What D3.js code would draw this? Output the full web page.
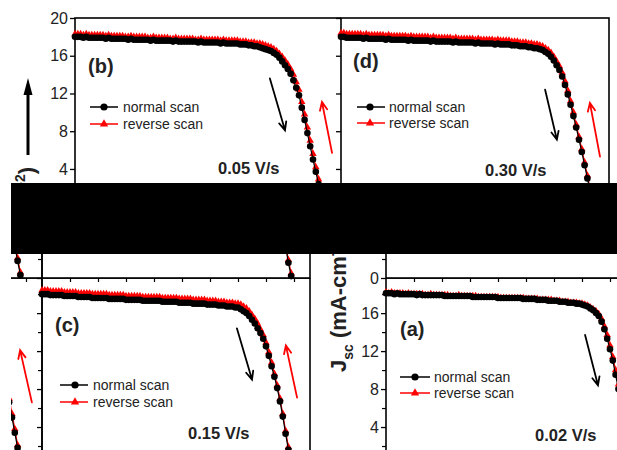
<!DOCTYPE html>
<html>
<head>
<meta charset="utf-8">
<script src="https://cdn.jsdelivr.net/npm/d3@7"></script>
<style>
  body { margin: 0; background: #fff; }
  svg { display: block; font-family: "Liberation Sans", Arial, sans-serif; }
</style>
</head>
<body>
<div id="container"></div>
<script>
// voltage grid (V), shared by every panel
const voltage = [
  0.00,0.01,0.02,0.03,0.04,0.05,0.06,0.07,0.08,0.09,
  0.10,0.11,0.12,0.13,0.14,0.15,0.16,0.17,0.18,0.19,
  0.20,0.21,0.22,0.23,0.24,0.25,0.26,0.27,0.28,0.29,
  0.30,0.31,0.32,0.33,0.34,0.35,0.36,0.37,0.38,0.39,
  0.40,0.41,0.42,0.43,0.44,0.45,0.46,0.47,0.48,0.49,
  0.50,0.51,0.52,0.53,0.54,0.55,0.56,0.57,0.58,0.59,
  0.60,0.61,0.62,0.63,0.64,0.65,0.66,0.67,0.68,0.69,
  0.70,0.71,0.72,0.73,0.74,0.75,0.76,0.77,0.78,0.79,
  0.80,0.81,0.82,0.83,0.84,0.85,0.86,0.87,0.88,0.89,
  0.90
];

// Jsc (mA cm-2)
const bNormal = [
  18.0,18.0,18.0,17.9,18.0,17.9,17.9,17.9,17.9,17.9,
  17.9,17.8,17.9,17.8,17.8,17.8,17.8,17.8,17.8,17.7,
  17.8,17.7,17.7,17.7,17.7,17.7,17.7,17.6,17.7,17.6,
  17.6,17.6,17.6,17.6,17.6,17.5,17.6,17.5,17.5,17.5,
  17.5,17.5,17.5,17.5,17.4,17.5,17.4,17.4,17.4,17.4,
  17.4,17.4,17.3,17.4,17.3,17.3,17.3,17.3,17.3,17.2,
  17.2,17.2,17.1,17.1,17.0,17.0,16.9,16.8,16.7,16.6,
  16.5,16.3,16.1,15.8,15.4,15.0,14.6,14.1,13.4,12.6,
  11.8,10.5,9.2,7.8,6.4,5.0,3.7,2.4,1.1,0.0
];
const bReverse = [
  18.3,18.3,18.3,18.2,18.3,18.2,18.2,18.2,18.2,18.2,
  18.2,18.1,18.2,18.1,18.1,18.1,18.1,18.1,18.0,18.0,
  18.1,18.0,18.0,18.0,18.0,18.0,17.9,17.9,18.0,17.9,
  17.9,17.9,17.9,17.9,17.8,17.8,17.9,17.8,17.8,17.8,
  17.8,17.8,17.8,17.7,17.7,17.8,17.7,17.7,17.7,17.7,
  17.7,17.7,17.6,17.7,17.6,17.6,17.6,17.6,17.6,17.5,
  17.5,17.5,17.4,17.4,17.4,17.3,17.3,17.2,17.1,17.0,
  16.9,16.7,16.5,16.2,15.9,15.5,15.1,14.6,14.0,13.2,
  12.4,11.1,9.8,8.4,7.0,5.6,4.2,2.9,1.6,0.3
];
const dNormal = [
  18.0,18.0,17.9,17.9,17.9,17.9,17.9,17.9,17.8,17.9,
  17.8,17.8,17.8,17.8,17.8,17.8,17.7,17.8,17.7,17.7,
  17.7,17.7,17.7,17.7,17.6,17.7,17.6,17.6,17.6,17.6,
  17.6,17.6,17.5,17.6,17.5,17.5,17.5,17.5,17.5,17.5,
  17.4,17.5,17.4,17.4,17.4,17.4,17.4,17.4,17.3,17.4,
  17.3,17.3,17.3,17.3,17.3,17.2,17.3,17.2,17.2,17.2,
  17.2,17.1,17.1,17.1,17.0,17.0,17.0,16.9,16.9,16.8,
  16.8,16.7,16.6,16.4,16.2,15.9,15.5,15.0,14.5,13.8,
  12.9,11.9,10.8,9.6,8.4,7.1,5.8,4.4,3.0,1.6,
  0.2
];
const dReverse = [
  18.4,18.4,18.3,18.3,18.3,18.3,18.3,18.3,18.2,18.3,
  18.2,18.2,18.2,18.2,18.2,18.2,18.1,18.2,18.1,18.1,
  18.1,18.1,18.1,18.1,18.0,18.1,18.0,18.0,18.0,18.0,
  18.0,18.0,17.9,18.0,17.9,17.9,17.9,17.9,17.9,17.9,
  17.8,17.9,17.8,17.8,17.8,17.8,17.8,17.8,17.7,17.8,
  17.7,17.7,17.7,17.7,17.7,17.6,17.7,17.6,17.6,17.6,
  17.6,17.5,17.5,17.5,17.4,17.4,17.4,17.3,17.3,17.2,
  17.2,17.1,17.0,16.8,16.6,16.3,15.9,15.4,14.9,14.2,
  13.3,12.3,11.2,10.0,8.7,7.4,6.1,4.7,3.3,1.9,
  0.5
];
const cNormal = [
  18.0,18.0,18.0,17.9,17.9,17.9,17.9,17.9,17.8,17.8,
  17.8,17.8,17.8,17.7,17.7,17.7,17.7,17.7,17.6,17.6,
  17.6,17.6,17.6,17.6,17.5,17.5,17.5,17.5,17.5,17.5,
  17.4,17.4,17.4,17.4,17.4,17.4,17.3,17.3,17.3,17.3,
  17.3,17.3,17.3,17.2,17.2,17.2,17.2,17.2,17.2,17.1,
  17.1,17.1,17.1,17.1,17.0,17.0,17.0,17.0,17.0,16.9,
  16.9,16.9,16.9,16.8,16.8,16.8,16.7,16.7,16.7,16.6,
  16.6,16.4,16.2,16.0,15.7,15.3,14.9,14.4,13.9,13.3,
  12.5,11.5,10.4,9.3,8.1,6.7,5.1,3.3,1.6,0.2
];
const cReverse = [
  18.4,18.4,18.4,18.3,18.3,18.3,18.3,18.3,18.2,18.2,
  18.2,18.2,18.2,18.1,18.1,18.1,18.1,18.1,18.0,18.0,
  18.0,18.0,18.0,18.0,17.9,17.9,17.9,17.9,17.9,17.9,
  17.8,17.8,17.8,17.8,17.8,17.8,17.7,17.7,17.7,17.7,
  17.7,17.7,17.7,17.6,17.6,17.6,17.6,17.6,17.6,17.5,
  17.5,17.5,17.5,17.5,17.4,17.4,17.4,17.4,17.4,17.3,
  17.3,17.3,17.3,17.2,17.2,17.2,17.1,17.1,17.1,17.0,
  17.0,16.9,16.7,16.5,16.2,15.8,15.4,14.9,14.3,13.7,
  12.9,11.9,10.8,9.6,8.4,7.0,5.4,3.6,1.9,0.5
];
const aNormal = [
  18.1,18.1,18.1,18.0,18.1,18.0,18.0,18.0,18.0,18.0,
  18.0,17.9,18.0,17.9,17.9,17.9,17.9,17.9,17.9,17.9,
  17.9,17.8,17.8,17.8,17.8,17.8,17.8,17.8,17.8,17.8,
  17.8,17.7,17.7,17.7,17.7,17.7,17.7,17.7,17.7,17.7,
  17.6,17.6,17.6,17.6,17.6,17.6,17.6,17.6,17.6,17.5,
  17.5,17.5,17.5,17.5,17.4,17.4,17.4,17.4,17.3,17.3,
  17.3,17.3,17.2,17.2,17.2,17.1,17.1,17.1,17.0,17.0,
  16.9,16.8,16.7,16.5,16.3,16.0,15.7,15.1,14.3,13.3,
  12.2,11.0,9.5,8.0,6.6,5.0,3.4,1.8,0.3
];
const aReverse = [
  18.2,18.1,18.2,18.1,18.1,18.1,18.1,18.0,18.1,18.0,
  18.0,18.0,18.0,18.0,17.9,17.9,18.0,17.9,17.9,17.9,
  17.9,17.9,17.9,17.8,17.8,17.8,17.9,17.8,17.8,17.8,
  17.8,17.8,17.8,17.7,17.7,17.7,17.7,17.7,17.7,17.7,
  17.7,17.6,17.6,17.6,17.6,17.6,17.6,17.6,17.6,17.6,
  17.5,17.5,17.5,17.5,17.5,17.4,17.4,17.4,17.4,17.4,
  17.3,17.3,17.3,17.2,17.2,17.2,17.1,17.1,17.1,17.0,
  17.0,16.9,16.8,16.6,16.4,16.2,15.9,15.4,14.6,13.7,
  12.6,11.4,10.0,8.5,7.0,5.4,3.8,2.1,0.6
];

const seriesNames = ["normal scan", "reverse scan"];
const panelLetters = { a: "(a)", b: "(b)", c: "(c)", d: "(d)" };
const scanRates = { a: "0.02 V/s", b: "0.05 V/s", c: "0.15 V/s", d: "0.30 V/s" };
const xTicks = [0.1, 0.2, 0.3, 0.4, 0.5, 0.6, 0.7, 0.8, 0.9];
const yMajor = [0, 4, 8, 12, 16, 20];
const yMinor = [2, 6, 10, 14, 18];

// hint arrows, in data units: [from, to]
const scanArrows = {
  b: { black: [[0.696, 13.6], [0.750, 8.1]], red: [[0.918, 5.7], [0.882, 11.1]] },
  d: { black: [[0.729, 12.4], [0.771, 7.1]], red: [[0.925, 5.3], [0.889, 11.0]] },
  c: { black: [[0.696, 14.4], [0.750, 9.0]], red: [[0.911, 7.1], [0.871, 12.6]] },
  a: { black: [[0.711, 13.7], [0.757, 8.4]], red: [[0.921, 6.6], [0.879, 12.1]] }
};

const W = 617, H = 450;
const PANEL_W = 268, PX_PER_V = 280;
const FONT = '"Liberation Sans", Arial, sans-serif';

const svg = d3.select("#container").append("svg")
  .attr("width", W).attr("height", H);

const defs = svg.append("defs");
function clip(id, x, y, w, h) {
  defs.append("clipPath").attr("id", id)
    .append("rect").attr("x", x).attr("y", y).attr("width", w).attr("height", h);
}
clip("clipTop", 0, 0, W, 183);
clip("clipStrip", 11, 254, W - 11, 32);
clip("clipLow", 11, 278, W - 11, H - 278);

function arrow(g, x, y, pts, color) {
  const [x1, y1] = [x(pts[0][0]), y(pts[0][1])];
  const [x2, y2] = [x(pts[1][0]), y(pts[1][1])];
  const ang = Math.atan2(y2 - y1, x2 - x1);
  const L = 9, spread = 0.42;
  const h1 = [x2 - L * Math.cos(ang - spread), y2 - L * Math.sin(ang - spread)];
  const h2 = [x2 - L * Math.cos(ang + spread), y2 - L * Math.sin(ang + spread)];
  g.append("path")
    .attr("d", `M${x1},${y1}L${x2},${y2}M${h1[0]},${h1[1]}L${x2},${y2}L${h2[0]},${h2[1]}`)
    .attr("fill", "none").attr("stroke", color).attr("stroke-width", 1.8)
    .attr("stroke-linecap", "round");
}

function drawPanel(g, p) {
  const x = d3.scaleLinear().domain([0, PANEL_W / PX_PER_V]).range([p.x0, p.x0 + PANEL_W]);
  const y = d3.scaleLinear().domain([0, p.jTop]).range([p.bottom, p.top]);

  if (p.bg) {
    g.append("rect").attr("x", p.x0).attr("y", 0)
      .attr("width", W - p.x0).attr("height", p.bottom + 30).attr("fill", "#fff");
  }

  // y axis, ticks outward
  const yAxis = g.append("g").attr("transform", `translate(${p.x0},0)`)
    .call(d3.axisLeft(y)
      .tickValues(yMajor.filter(v => v <= p.jTop + 0.01))
      .tickSize(5).tickPadding(2)
      .tickFormat(p.labels ? d3.format("d") : ""));
  yAxis.select(".domain").remove();
  yAxis.attr("font-family", FONT).attr("font-size", 16);
  yAxis.selectAll("line").attr("stroke", "#000").attr("stroke-width", 1.3);
  yAxis.selectAll("text").attr("fill", "#222");

  if (p.minor) {
    const yMin = g.append("g").attr("transform", `translate(${p.x0},0)`)
      .call(d3.axisLeft(y).tickValues(yMinor.filter(v => v <= p.jTop)).tickSize(4).tickFormat(""));
    yMin.select(".domain").remove();
    yMin.selectAll("line").attr("stroke", "#000").attr("stroke-width", 1.2);
  }

  // voltage axis at Jsc = 0, ticks outward
  const xAxis = g.append("g").attr("transform", `translate(0,${p.bottom})`)
    .call(d3.axisBottom(x).tickValues(xTicks).tickSize(4).tickFormat(""));
  xAxis.select(".domain").remove();
  xAxis.selectAll("line").attr("stroke", "#000").attr("stroke-width", 1.2);

  // frame
  g.append("rect")
    .attr("x", p.x0).attr("y", p.top)
    .attr("width", PANEL_W).attr("height", p.bottom - p.top)
    .attr("fill", "none").attr("stroke", "#000").attr("stroke-width", 1.6);

  const line = d3.line().x(d => x(d[0])).y(d => y(d[1]));
  const rev = p.reverse.map((j, i) => [voltage[i], j]);
  const nor = p.normal.map((j, i) => [voltage[i], j]);

  g.append("path").attr("d", line(rev))
    .attr("fill", "none").attr("stroke", "#ff0000").attr("stroke-width", 1.2);
  g.append("g").selectAll("path").data(rev).join("path")
    .attr("d", d3.symbol(d3.symbolTriangle, 24))
    .attr("transform", d => `translate(${x(d[0])},${y(d[1])})`)
    .attr("fill", "#ff0000");

  g.append("path").attr("d", line(nor))
    .attr("fill", "none").attr("stroke", "#000").attr("stroke-width", 1.2);
  g.append("g").selectAll("circle").data(nor).join("circle")
    .attr("cx", d => x(d[0])).attr("cy", d => y(d[1]))
    .attr("r", 3.3).attr("fill", "#000");

  arrow(g, x, y, p.arrows.black, "#000");
  arrow(g, x, y, p.arrows.red, "#ff0000");

  // legend
  const lg = p.legend;
  seriesNames.forEach((name, i) => {
    const cy = p.top + (i === 0 ? lg.y1 : lg.y2);
    const col = i === 0 ? "#000" : "#ff0000";
    g.append("line")
      .attr("x1", p.x0 + lg.x1).attr("x2", p.x0 + lg.x2)
      .attr("y1", cy).attr("y2", cy)
      .attr("stroke", col).attr("stroke-width", 1.5);
    if (i === 0) {
      g.append("circle").attr("cx", p.x0 + lg.xm).attr("cy", cy).attr("r", 3.6).attr("fill", col);
    } else {
      g.append("path").attr("d", d3.symbol(d3.symbolTriangle, 30))
        .attr("transform", `translate(${p.x0 + lg.xm},${cy})`).attr("fill", col);
    }
    g.append("text")
      .attr("x", p.x0 + lg.xt).attr("y", cy + 5)
      .attr("font-family", FONT).attr("font-size", 14).attr("fill", "#222")
      .text(name);
  });

  g.append("text")
    .attr("x", p.x0 + p.letterAt[0]).attr("y", p.top + p.letterAt[1])
    .attr("font-family", FONT).attr("font-size", 20).attr("font-weight", "bold").attr("fill", "#222")
    .text(p.letter);

  g.append("text")
    .attr("x", p.x0 + p.rateAt[0]).attr("y", p.top + p.rateAt[1])
    .attr("font-family", FONT).attr("font-size", 16.5).attr("font-weight", "bold").attr("fill", "#222")
    .text(p.rate);
}

function yLabel(g, x, y, anchor) {
  const t = g.append("text")
    .attr("transform", `translate(${x},${y}) rotate(-90)`)
    .attr("text-anchor", anchor)
    .attr("font-family", FONT).attr("font-size", 22).attr("font-weight", "bold").attr("fill", "#222");
  t.append("tspan").text("J");
  t.append("tspan").attr("font-size", 14).attr("dy", 7).text("sc");
  t.append("tspan").attr("dy", -7).text(" (mA-cm");
  t.append("tspan").attr("font-size", 14).attr("dy", -9).text("-2");
  t.append("tspan").attr("dy", 9).text(")");
}

const panels = {
  b: { x0: 75, top: 18, bottom: 206.7, jTop: 20, labels: true, minor: false,
       normal: bNormal, reverse: bReverse,
       letterAt: [13, 55], rateAt: [143, 156],
       legend: { x1: 15, x2: 43, xm: 29, xt: 48, y1: 89, y2: 106 } },
  d: { x0: 341, top: 18, bottom: 206.7, jTop: 20, labels: false, minor: false, bg: true,
       normal: dNormal, reverse: dReverse,
       letterAt: [12, 50], rateAt: [144, 158],
       legend: { x1: 16, x2: 44, xm: 29, xt: 48, y1: 89, y2: 105 } },
  c: { x0: 42, top: 278, bottom: 465, jTop: 19.7, labels: false, minor: true,
       normal: cNormal, reverse: cReverse,
       letterAt: [13, 54], rateAt: [146, 161],
       legend: { x1: 18, x2: 46, xm: 33, xt: 51, y1: 107, y2: 124 } },
  a: { x0: 386, top: 278, bottom: 465, jTop: 19.7, labels: true, minor: true,
       normal: aNormal, reverse: aReverse,
       letterAt: [14, 58], rateAt: [149, 163],
       legend: { x1: 14, x2: 44, xm: 29, xt: 48, y1: 99, y2: 115 } }
};
Object.keys(panels).forEach(k => {
  panels[k].letter = panelLetters[k];
  panels[k].rate = scanRates[k];
  panels[k].arrows = scanArrows[k];
});

// upper row
const topG = svg.append("g").attr("clip-path", "url(#clipTop)");
drawPanel(topG, panels.b);
drawPanel(topG, panels.d);
yLabel(topG, 34, 167, "end");
topG.append("line").attr("x1", 28).attr("x2", 28).attr("y1", 155).attr("y2", 92)
  .attr("stroke", "#000").attr("stroke-width", 3);
topG.append("path").attr("d", "M28,78L23.5,95L32.5,95Z").attr("fill", "#000");

// lower row (panel (a) also wraps round to the left edge)
function lowerRow(g) {
  drawPanel(g, Object.assign({}, panels.a, { x0: -226, labels: false }));
  drawPanel(g, panels.c);
  drawPanel(g, panels.a);
}
const stripG = svg.append("g").attr("clip-path", "url(#clipStrip)")
  .append("g").attr("transform", "translate(0,-187)");
lowerRow(stripG);
const lowG = svg.append("g").attr("clip-path", "url(#clipLow)");
lowerRow(lowG);
yLabel(svg, 346, 372, "start");

// black band across the middle
svg.append("rect").attr("x", 11).attr("y", 183).attr("width", W - 11).attr("height", 71).attr("fill", "#000");
</script>
</body>
</html>
